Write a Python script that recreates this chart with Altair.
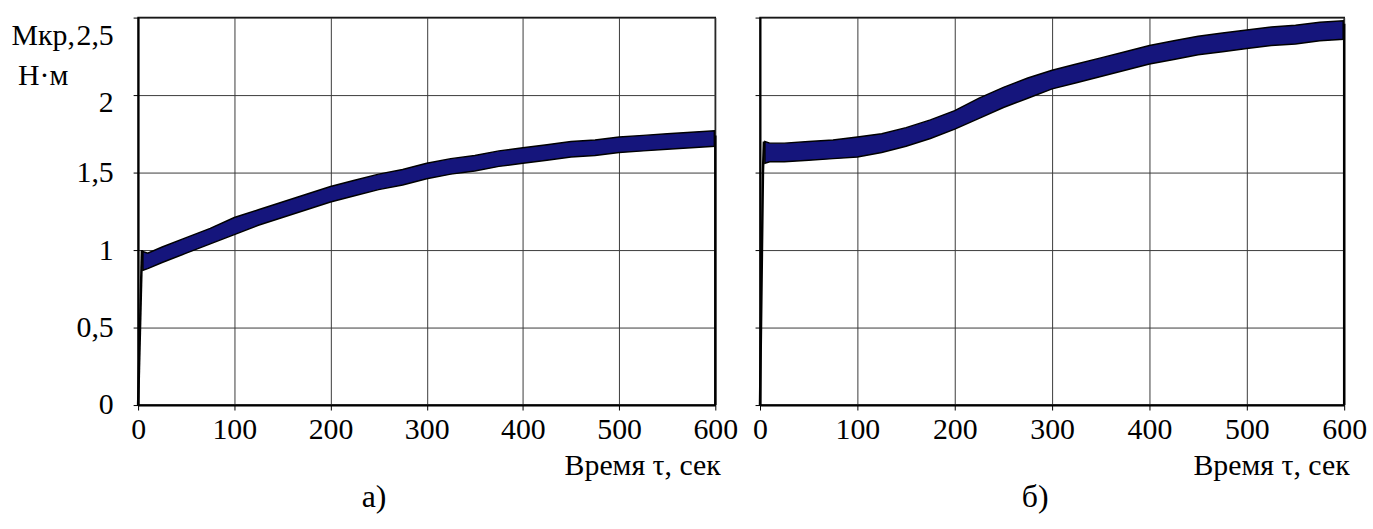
import altair as alt
import pandas as pd

# ---- data ----
# panel а)
t_a = [5, 10, 25, 50, 75, 100, 125, 150, 175, 200, 225, 250, 275, 300, 325,
       350, 375, 400, 425, 450, 475, 500, 525, 550, 575, 599]
lo_a = [0.87, 0.88, 0.92, 0.98, 1.04, 1.10, 1.16, 1.21, 1.26, 1.31, 1.35, 1.39,
        1.42, 1.46, 1.49, 1.51, 1.54, 1.56, 1.58, 1.60, 1.61, 1.63, 1.64, 1.65, 1.66, 1.67]
hi_a = [0.99, 0.98, 1.02, 1.08, 1.14, 1.21, 1.26, 1.31, 1.36, 1.41, 1.45, 1.49,
        1.52, 1.56, 1.59, 1.61, 1.64, 1.66, 1.68, 1.70, 1.71, 1.73, 1.74, 1.75, 1.76, 1.77]
# panel б)
t_b = [5, 10, 25, 50, 75, 100, 125, 150, 175, 200, 225, 250, 275, 300, 325,
       350, 375, 400, 425, 450, 475, 500, 525, 550, 575, 599]
lo_b = [1.56, 1.57, 1.57, 1.58, 1.59, 1.60, 1.63, 1.67, 1.72, 1.78, 1.85, 1.92,
        1.98, 2.04, 2.08, 2.12, 2.16, 2.20, 2.23, 2.26, 2.28, 2.30, 2.32, 2.33, 2.35, 2.36]
hi_b = [1.70, 1.69, 1.69, 1.70, 1.71, 1.73, 1.75, 1.79, 1.84, 1.90, 1.98, 2.05,
        2.11, 2.16, 2.20, 2.24, 2.28, 2.32, 2.35, 2.38, 2.40, 2.42, 2.44, 2.45, 2.47, 2.48]

# start rise and end drop of each record
edge_a_t = [0, 4, 600, 600]
edge_a_v = [0.0, 1.0, 1.74, 0.0]
edge_b_t = [0, 3, 4, 600, 600]
edge_b_v = [0.0, 1.5, 1.70, 2.46, 0.0]
edge_a_seg = ["start", "start", "end", "end"]
edge_b_seg = ["start", "start", "start", "end", "end"]

x_ticks = [0, 100, 200, 300, 400, 500, 600]
y_ticks = [0, 0.5, 1, 1.5, 2, 2.5]

FONT = "Liberation Serif"
FS = 30


def panel(t, lo, hi, et, ev, es, width, first, caption, cap_dx):
    band = pd.DataFrame({"t": t, "lo": lo, "hi": hi})
    edges = pd.DataFrame({"t": et, "v": ev, "seg": es})

    xaxis = alt.Axis(values=x_ticks, grid=True, gridColor="#3a3a3a", gridWidth=1,
                     domainColor="black", domainWidth=2, tickColor="black",
                     tickSize=5, labelFont=FONT, labelFontSize=FS, labelColor="black",
                     labelPadding=5, labelFlush=False,
                     title="Время τ, сек", titleFont=FONT, titleFontSize=FS,
                     titleFontWeight="normal", titleColor="black",
                     titleAlign="right", titleBaseline="alphabetic",
                     titleX=width + 5, titleY=70)
    if first:
        yaxis = alt.Axis(values=y_ticks, grid=True, gridColor="#3a3a3a", gridWidth=1,
                         domainColor="black", domainWidth=2, tickColor="black",
                         tickSize=5, labelFont=FONT, labelFontSize=FS, labelColor="black",
                         labelPadding=20,
                         labelExpr="replace(toString(datum.value), '.', ',')",
                         labelOffset={"condition": [
                             {"test": "datum.value == 2.5", "value": 18},
                             {"test": "datum.value == 2", "value": 8}],
                             "value": 0},
                         title=["Мкр,", "Н·м"], titleFont=FONT, titleFontSize=FS,
                         titleFontWeight="normal", titleColor="black", titleAngle=0,
                         titleAlign="center", titleBaseline="alphabetic",
                         titleX=-96, titleY=27, titleLineHeight=40)
    else:
        yaxis = alt.Axis(values=y_ticks, grid=True, gridColor="#3a3a3a", gridWidth=1,
                         domainColor="black", domainWidth=2, tickColor="black",
                         tickSize=5, labels=False, title=None)

    xs = alt.Scale(domain=[0, 600], nice=False)
    ys = alt.Scale(domain=[0, 2.5], nice=False)

    area = alt.Chart(band).mark_area(
        fill="#15157c", stroke="black", strokeWidth=1.5
    ).encode(
        x=alt.X("t:Q", scale=xs, axis=xaxis),
        y=alt.Y("lo:Q", scale=ys, axis=yaxis),
        y2="hi:Q",
    )
    line = alt.Chart(edges).mark_line(color="black", strokeWidth=2.5).encode(
        x=alt.X("t:Q", scale=xs),
        y=alt.Y("v:Q", scale=ys),
        detail="seg:N",
    )
    return alt.layer(area, line).properties(
        width=width, height=390,
        title=alt.TitleParams(caption, orient="bottom", anchor="middle",
                              frame="group", dx=cap_dx, offset=2,
                              font=FONT, fontSize=32, fontWeight="normal",
                              color="black"),
    )


left = panel(t_a, lo_a, hi_a, edge_a_t, edge_a_v, edge_a_seg, 581, True, "а)", -53)
right = panel(t_b, lo_b, hi_b, edge_b_t, edge_b_v, edge_b_seg, 588, False, "б)", -17)

chart = alt.hconcat(left, right, spacing=45, bounds="flush").properties(
    padding={"left": 10, "top": 14, "right": 5, "bottom": 5},
    background="white",
).configure_view(stroke="black", strokeWidth=1.5)

chart.save("out.html", embed_options={"renderer": "svg", "actions": False})
